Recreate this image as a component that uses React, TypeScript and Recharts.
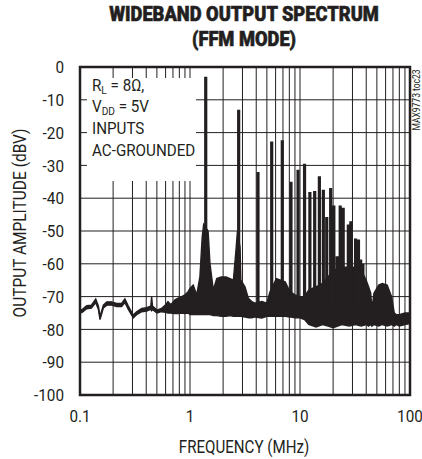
import React from "react";
import {
  ComposedChart,
  Area,
  Scatter,
  XAxis,
  YAxis,
  CartesianGrid,
  ReferenceArea,
  Label,
} from "recharts";

const INK = "#231f20";
const FONT = "Roboto, 'Noto Sans', sans-serif";

// noise floor band (MHz, dBV)
const bandFreq = [
  0.1, 0.104, 0.115, 0.127, 0.139, 0.147, 0.152, 0.163, 0.175, 0.194, 0.215, 0.239,
  0.256, 0.275, 0.305, 0.327, 0.364, 0.404, 0.44, 0.448, 0.456, 0.5, 0.55, 0.6,
  0.63, 0.67, 0.73, 0.78, 0.84, 0.9, 0.96, 1.0, 1.07, 1.15, 1.23, 1.29, 1.33,
  1.46, 1.52, 1.63, 1.75, 1.92, 2.13, 2.31, 2.48, 2.63, 2.7, 2.85, 2.9, 3.16,
  3.39, 3.64, 3.9, 4.5, 4.98, 5.34, 6.1, 7.33, 8.1, 9, 10, 11, 12, 14, 16, 18,
  20, 24, 28, 32, 36, 40, 42, 44, 45, 47, 52, 56, 62, 68, 72, 75, 80, 90, 100,
];
const bandHigh = [
  -74.0, -74.0, -72.8, -72.6, -70.7, -72.9, -76.1, -72.6, -71.6, -71.6, -72.1, -72.1,
  -70.7, -72.9, -75.6, -74.6, -73.6, -73.4, -72.9, -70.0, -72.9, -74.1, -73.6, -72.5,
  -71.5, -72.5, -71.0, -70.5, -70.0, -69.5, -68.5, -67.5, -66.5, -69.5, -64.0, -52.0, -48.0,
  -50.0, -60.0, -68.0, -64.5, -64.0, -64.0, -64.5, -65.0, -55.0, -50.0, -55.0, -65.0, -67.0,
  -70.5, -71.5, -72.0, -71.5, -72.0, -68.5, -64.5, -65.5, -68.5, -69.5, -70.0, -70.0, -68.0, -67.0, -66.0, -64.0,
  -62.0, -61.0, -61.0, -61.0, -62.0, -65.0, -67.0, -69.0, -74.0, -69.0, -66.5, -66.0, -66.5, -70.0, -75.0, -75.5, -75.5, -75.0, -75.0,
];
const bandLow = [
  -74.9, -74.9, -73.7, -73.5, -71.8, -73.9, -77.0, -73.5, -72.6, -72.6, -73.0, -73.0,
  -71.8, -73.9, -76.5, -75.5, -74.6, -74.4, -73.9, -74.3, -73.9, -75.0, -74.6, -74.8,
  -75.0, -75.0, -75.2, -75.2, -75.0, -75.2, -75.0, -75.5, -75.5, -75.5, -75.5, -75.5, -75.5,
  -75.5, -75.5, -75.8, -75.8, -76.0, -76.0, -75.8, -76.0, -76.0, -76.0, -76.0, -76.0, -76.2,
  -76.5, -76.5, -76.2, -76.5, -76.0, -76.0, -76.0, -76.0, -76.2, -76.5, -76.5, -77.0, -78.5, -79.3, -78.5, -79.0,
  -79.5, -78.5, -79.0, -78.5, -79.0, -78.5, -79.0, -78.5, -79.0, -78.5, -79.0, -78.5, -79.0, -78.5, -79.0, -78.5, -79.0, -78.5, -78.2,
];

// harmonic spikes
const peakFreq = [
  1.39, 2.77, 4.15, 5.53, 6.9, 8.28, 9.6, 11.0, 12.3, 13.6, 15.0, 16.3,
  17.5, 19.0, 20.3, 21.8, 23.2, 24.7, 27.5, 29.0, 32.0, 34.0, 35.6, 37.3,
];
const peakLevel = [
  -3, -13, -32, -22.7, -22.3, -35, -31.3, -29.5, -38.1, -37.8, -33.3, -37.4,
  -45.7, -36.9, -42.2, -57.7, -42.2, -42.9, -48, -47, -52.3, -52.6, -58.7, -60,
];
const SPIKE_BASE = -74;

const xTicks = [
  0.1, 0.2, 0.3, 0.4, 0.5, 0.6, 0.7, 0.8, 0.9,
  1, 2, 3, 4, 5, 6, 7, 8, 9,
  10, 20, 30, 40, 50, 60, 70, 80, 90, 100,
];
const xLabels = ["0.1", "1", "10", "100"];
const yTicks = [-100, -90, -80, -70, -60, -50, -40, -30, -20, -10, 0];

const bandData = bandFreq.map((f, i) => ({ f, range: [bandLow[i], bandHigh[i]] }));
const spikeData = peakFreq.flatMap((f, i) => [
  { f, v: SPIKE_BASE },
  { f, v: peakLevel[i] },
  { f, v: SPIKE_BASE },
]);

const fmtX = (v: number) => (xLabels.includes(String(v)) ? String(v) : "");

const textStyle = { fill: INK, fontFamily: FONT };

function XTick(props: any) {
  const { x, y, payload } = props;
  return (
    <text
      transform={`translate(${x},${y}) scale(0.9,1)`}
      textAnchor="middle"
      dy="0.71em"
      fontSize={17}
      {...textStyle}
    >
      {fmtX(payload.value)}
    </text>
  );
}

function YTick(props: any) {
  const { x, y, payload } = props;
  return (
    <text
      transform={`translate(${x},${y}) scale(0.9,1)`}
      textAnchor="end"
      dy="0.36em"
      fontSize={17}
      {...textStyle}
    >
      {payload.value}
    </text>
  );
}

function XTitle(props: any) {
  const vb = props.viewBox;
  const cx = vb.x + vb.width / 2 - 1;
  const by = vb.y + vb.height + 18;
  return (
    <text
      transform={`translate(${cx},${by}) scale(0.84,1)`}
      textAnchor="middle"
      fontSize={18}
      {...textStyle}
    >
      FREQUENCY (MHz)
    </text>
  );
}

function YTitle(props: any) {
  const vb = props.viewBox;
  const cy = vb.y + vb.height / 2 - 8;
  return (
    <text
      transform={`translate(${vb.x + 26},${cy}) rotate(-90) scale(0.86,1)`}
      textAnchor="middle"
      fontSize={18}
      {...textStyle}
    >
      OUTPUT AMPLITUDE (dBV)
    </text>
  );
}

export default function App() {
  return (
    <div
      style={{
        position: "absolute",
        left: 0,
        top: 0,
        width: 422,
        height: 459,
        background: "#fff",
        fontFamily: FONT,
        color: INK,
        overflow: "hidden",
      }}
    >
      <div
        style={{
          position: "absolute",
          left: 44,
          top: 2,
          width: 400,
          textAlign: "center",
          fontWeight: 900,
          fontSize: 21,
          lineHeight: "25px",
          whiteSpace: "nowrap",
          transform: "scaleX(0.87)",
          transformOrigin: "200px 0",
          WebkitTextStroke: "0.6px " + INK,
        }}
      >
        WIDEBAND OUTPUT SPECTRUM
        <br />
        (FFM MODE)
      </div>

      <ComposedChart
        width={422}
        height={459}
        data={bandData}
        margin={{ top: 67, right: 12, bottom: 24, left: 0 }}
        style={{ position: "absolute", left: 0, top: 0 }}
      >
        <CartesianGrid stroke={INK} strokeWidth={1} />
        <XAxis
          dataKey="f"
          type="number"
          scale="log"
          domain={[0.1, 100]}
          ticks={xTicks}
          interval={0}
          tickFormatter={fmtX}
          axisLine={false}
          tickLine={false}
          tickSize={0}
          tickMargin={15}
          height={40}
          allowDataOverflow
          tick={<XTick />}
        >
          <Label content={<XTitle />} />
        </XAxis>
        <YAxis
          type="number"
          domain={[-100, 0]}
          ticks={yTicks}
          interval={0}
          width={80}
          axisLine={false}
          tickLine={false}
          tickSize={0}
          tickMargin={16}
          allowDataOverflow
          tick={<YTick />}
        >
          <Label content={<YTitle />} />
        </YAxis>
        <Area
          type="linear"
          dataKey="range"
          stroke={INK}
          strokeWidth={1.4}
          fill={INK}
          fillOpacity={1}
          dot={false}
          activeDot={false}
          isAnimationActive={false}
        />
        <Scatter
          data={spikeData}
          dataKey="v"
          fill={INK}
          line={{ stroke: INK, strokeWidth: 3.2 }}
          lineType="joint"
          shape={() => <g />}
          isAnimationActive={false}
        />
        <ReferenceArea
          x1={0.1}
          x2={100}
          y1={-100}
          y2={0}
          fill="none"
          stroke={INK}
          strokeWidth={2.5}
          ifOverflow="visible"
        />
      </ComposedChart>

      <div
        style={{
          position: "absolute",
          left: 87,
          top: 78,
          width: 109,
          height: 103,
          background: "#fff",
        }}
      >
        <div
          style={{
            position: "absolute",
            left: 4.5,
            top: -3,
            fontSize: 16.5,
            lineHeight: "22px",
            whiteSpace: "nowrap",
            transform: "scaleX(0.92)",
            transformOrigin: "0 0",
          }}
        >
          <div style={{ height: 21 }}>
            R<sub style={{ fontSize: 11, verticalAlign: "-3px", lineHeight: 0 }}>L</sub> = 8Ω,
          </div>
          <div style={{ height: 22 }}>
            V<sub style={{ fontSize: 11, verticalAlign: "-3px", lineHeight: 0 }}>DD</sub> = 5V
          </div>
          <div style={{ height: 22 }}>INPUTS</div>
          <div style={{ height: 22 }}>AC-GROUNDED</div>
        </div>
      </div>

      <div
        style={{
          position: "absolute",
          left: 417,
          top: 100,
          transform: "translate(-50%, -50%) rotate(-90deg) scaleX(0.85)",
          fontSize: 10,
          lineHeight: "10px",
          whiteSpace: "nowrap",
        }}
      >
        MAX9773 toc23
      </div>
    </div>
  );
}
